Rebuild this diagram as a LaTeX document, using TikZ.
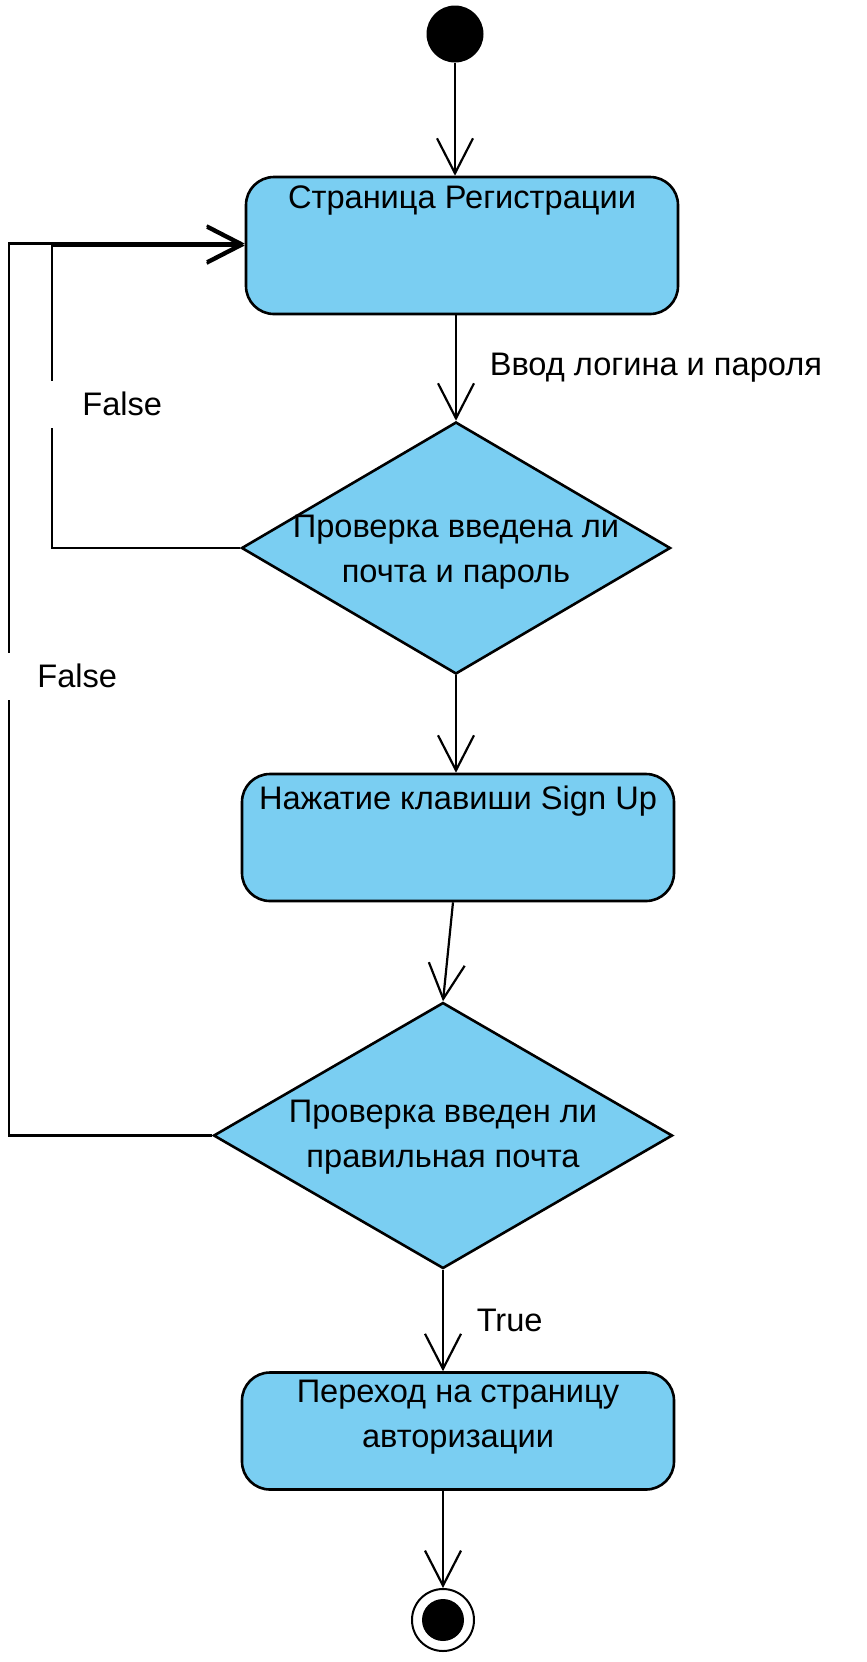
\documentclass[tikz,border=0pt]{standalone}
\usepackage{fontspec}
\setmainfont{Liberation Sans}
\usetikzlibrary{arrows.meta,shapes.geometric}
\definecolor{actblue}{HTML}{7ACEF2}
\begin{document}
\begin{tikzpicture}[x=0.5pt, y=-0.5pt,
	every node/.style={font=\fontsize{16.3}{22.5}\selectfont},
	>={Straight Barb[length=17.5pt, width=18pt]},
	flow/.style={->, line width=1.1pt},
	act/.style={draw, fill=actblue, line width=1.3pt, rounded corners=14pt, minimum width=216pt, inner sep=0pt},
	decision/.style={diamond, draw, fill=actblue, line width=1.3pt, inner sep=0pt},
	falselbl/.style={anchor=west, fill=white, inner sep=0pt, minimum height=23.5pt}]
	\useasboundingbox (0,0) rectangle (867,1662);
	\node[circle, fill=black, minimum size=28.5pt, inner sep=0pt] (start) at (455,34) {};
	\node[act, minimum height=68.5pt, label={[anchor=center, yshift=-12.5pt]north:Страница Регистрации}] (reg) at (462,245.5) {};
	\node[decision, minimum width=214.5pt, minimum height=126pt, label={[align=center, yshift=-2pt]center:Проверка введена ли\\почта и пароль}] (d1) at (456,548) {};
	\node[act, minimum height=63.5pt, label={[anchor=center, yshift=-14pt]north:Нажатие клавиши Sign Up}] (signup) at (458,837.5) {};
	\node[decision, minimum width=229.5pt, minimum height=133pt, label={[align=center, yshift=-1pt]center:Проверка введен ли\\правильная почта}] (d2) at (443,1135.5) {};
	\node[act, minimum height=58.5pt, label={[anchor=center, align=center, yshift=-23pt]north:Переход на страницу\\авторизации}] (auth) at (458,1431) {};
	\node[circle, draw, fill=white, line width=1pt, minimum size=31pt, inner sep=0pt,
		path picture={\fill[black] (path picture bounding box.center) circle (10.5pt);}] (stop) at (443,1620) {};
	\coordinate (inner) at (52,0);
	\coordinate (outer) at (9,0);

	\draw[flow] (start) -- (start |- reg.north);
	\draw[flow] (d1.north |- reg.south) -- (d1.north) node[pos=0.5, anchor=west, xshift=13pt] (login) {Ввод логина и пароля};
	\draw[flow] (d1.south) -- (d1.south |- signup.north);
	\draw[flow] ([xshift=-2.5pt]signup.south) -- (d2.north);
	\draw[flow] (d2.south) -- (d2.south |- auth.north) node[pos=0.5, anchor=west, xshift=13pt] (yes) {True};
	\draw[flow] (stop |- auth.south) -- (stop);
	\draw[->, line width=1.3pt] (d1.west) -| (inner |- reg.west) -- (reg.west);
	\draw[->, line width=1.3pt] (d2.west) -| ([yshift=1pt]outer |- reg.west) -- ([yshift=1pt]reg.west);
	\node[falselbl] (no1) at (48,404) {\hspace{17pt}False\hspace{2pt}};
	\node[falselbl] (no2) at (5,676) {\hspace{16pt}False\hspace{2pt}};
\end{tikzpicture}
\end{document}
